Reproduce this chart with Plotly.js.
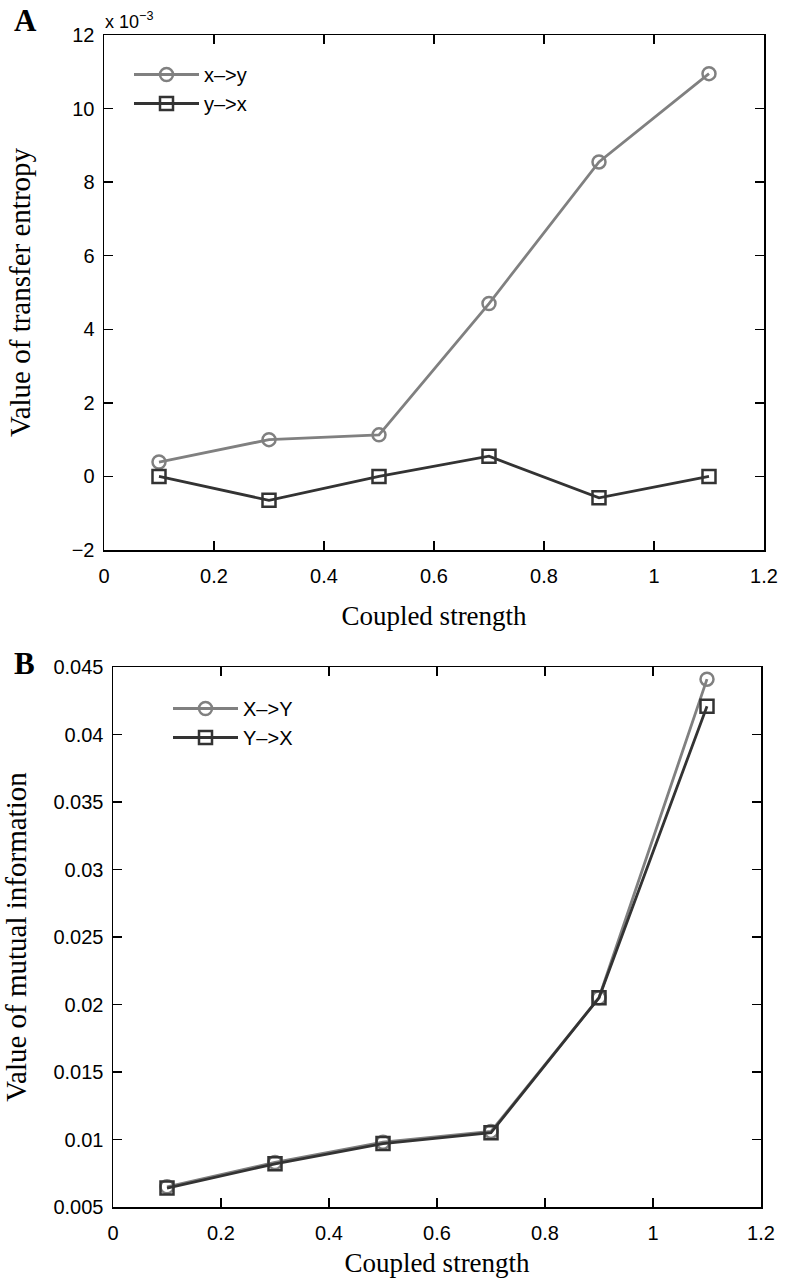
<!DOCTYPE html>
<html>
<head>
<meta charset="utf-8">
<script src="https://cdn.plot.ly/plotly-3.0.1.min.js"></script>
<style>
  html, body { margin: 0; padding: 0; background: #fff; }
  #chart { width: 786px; height: 1278px; }
</style>
</head>
<body>
<div id="chart"></div>
<script>
// datos del panel A (transfer entropy, escala x 10^-3)
const coupled = [0.1, 0.3, 0.5, 0.7, 0.9, 1.1];
const teXY = [0.39, 1.0, 1.13, 4.7, 8.55, 10.95];
const teYX = [0.0, -0.65, 0.0, 0.55, -0.58, 0.0];

// datos del panel B (mutual information)
const miXY = [0.0065, 0.0083, 0.0098, 0.0106, 0.0205, 0.0441];
const miYX = [0.0064, 0.0082, 0.0097, 0.0105, 0.0205, 0.0421];

const ticksA = [-2, 0, 2, 4, 6, 8, 10, 12];
const ticksB = [0.005, 0.01, 0.015, 0.02, 0.025, 0.03, 0.035, 0.04, 0.045];
const ticksX = [0, 0.2, 0.4, 0.6, 0.8, 1, 1.2];

const W = 786, H = 1278;
const px = v => v / W;       // pixel -> paper (x)
const py = v => 1 - v / H;   // pixel -> paper (y, desde arriba)

const gray = '#808080';
const dark = '#333333';
const sans = 'Liberation Sans, Arial, sans-serif';
const serif = 'Liberation Serif, Times New Roman, serif';
const tickFont = { family: sans, size: 20, color: '#000' };
const titleFont = { family: serif, size: 27, color: '#000' };
const yTitleFont = { family: serif, size: 29, color: '#000' };

const baseAxis = {
    showgrid: false,
    zeroline: false,
    showline: true,
    linecolor: '#000',
    linewidth: 1.5,
    mirror: 'ticks',
    ticks: 'inside',
    ticklen: 9,
    tickwidth: 1.3,
    tickcolor: '#000',
    tickfont: tickFont
};

const lineStyle = c => ({ color: c, width: 2.8 });
const markStyle = (s, c) => ({ symbol: s, size: 13, color: c, line: { width: 2.5, color: c } });

const data = [
    {
        x: coupled, y: teXY, name: 'x\u2013>y', xaxis: 'x', yaxis: 'y', legend: 'legend',
        mode: 'lines+markers', line: lineStyle(gray), marker: markStyle('circle-open', gray)
    },
    {
        x: coupled, y: teYX, name: 'y\u2013>x', xaxis: 'x', yaxis: 'y', legend: 'legend',
        mode: 'lines+markers', line: lineStyle(dark), marker: markStyle('square-open', dark)
    },
    {
        x: coupled, y: miXY, name: 'X\u2013>Y', xaxis: 'x2', yaxis: 'y2', legend: 'legend2',
        mode: 'lines+markers', line: lineStyle(gray), marker: markStyle('circle-open', gray)
    },
    {
        x: coupled, y: miYX, name: 'Y\u2013>X', xaxis: 'x2', yaxis: 'y2', legend: 'legend2',
        mode: 'lines+markers', line: lineStyle(dark), marker: markStyle('square-open', dark)
    }
];

const legendBase = {
    bgcolor: 'rgba(0,0,0,0)',
    borderwidth: 0,
    font: { family: sans, size: 20, color: '#000' },
    itemwidth: 65,
    xanchor: 'left',
    yanchor: 'top'
};

const layout = {
    width: W,
    height: H,
    margin: { l: 0, r: 0, t: 0, b: 0 },
    paper_bgcolor: '#fff',
    plot_bgcolor: '#fff',
    showlegend: true,
    xaxis: Object.assign({}, baseAxis, {
        domain: [px(104), px(764)], anchor: 'y',
        range: [0, 1.2], tickvals: ticksX, ticktext: ticksX.map(String),
        ticklabelstandoff: 7,
        title: { text: 'Coupled strength', font: titleFont, standoff: 20 }
    }),
    yaxis: Object.assign({}, baseAxis, {
        domain: [py(550), py(35)], anchor: 'x',
        range: [-2, 12], tickvals: ticksA, ticktext: ticksA.map(v => v < 0 ? '\u2212' + (-v) : String(v)),
        ticklabelstandoff: 4,
        title: { text: 'Value of transfer entropy', font: yTitleFont, standoff: 32 }
    }),
    xaxis2: Object.assign({}, baseAxis, {
        domain: [px(113), px(761)], anchor: 'y2',
        range: [0, 1.2], tickvals: ticksX, ticktext: ticksX.map(String),
        ticklabelstandoff: 7,
        title: { text: 'Coupled strength', font: titleFont, standoff: 20 }
    }),
    yaxis2: Object.assign({}, baseAxis, {
        domain: [py(1207), py(667)], anchor: 'x2',
        range: [0.005, 0.045], tickvals: ticksB, ticktext: ticksB.map(String),
        ticklabelstandoff: 4,
        title: { text: 'Value of mutual information', font: yTitleFont, standoff: 20 }
    }),
    legend: Object.assign({}, legendBase, { x: px(129), y: py(55) }),
    legend2: Object.assign({}, legendBase, { x: px(168), y: py(689) }),
    annotations: [
        {
            text: '<b>A</b>', xref: 'paper', yref: 'paper', x: px(12), y: py(20),
            xanchor: 'left', yanchor: 'middle', showarrow: false,
            font: { family: serif, size: 31, color: '#000' }
        },
        {
            text: '<b>B</b>', xref: 'paper', yref: 'paper', x: px(12), y: py(663),
            xanchor: 'left', yanchor: 'middle', showarrow: false,
            font: { family: serif, size: 31, color: '#000' }
        },
        {
            text: 'x 10<sup>\u22123</sup>', xref: 'paper', yref: 'paper', x: px(103), y: py(20),
            xanchor: 'left', yanchor: 'middle', showarrow: false,
            font: { family: sans, size: 18, color: '#000' }
        }
    ]
};

Plotly.newPlot('chart', data, layout, { displayModeBar: false, staticPlot: true });
</script>
</body>
</html>
